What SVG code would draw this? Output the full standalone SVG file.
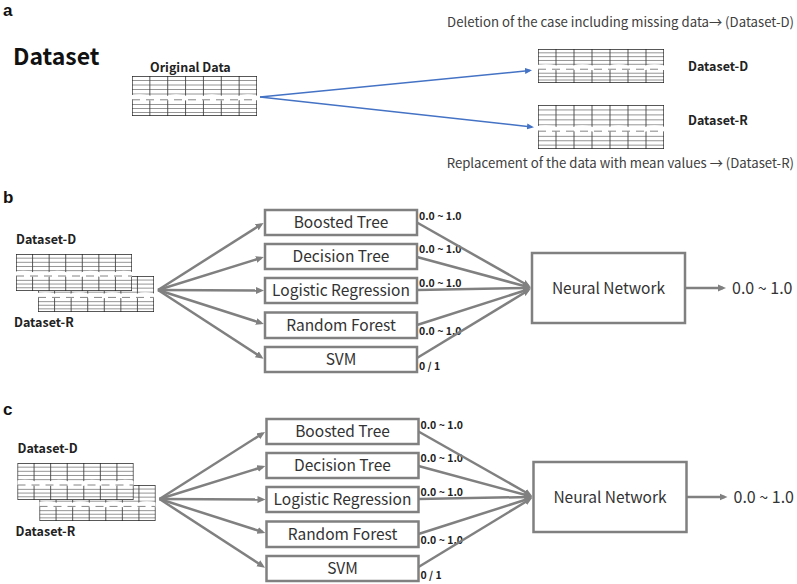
<svg xmlns="http://www.w3.org/2000/svg" xmlns:xlink="http://www.w3.org/1999/xlink" width="797" height="584" viewBox="0 0 797 584">
<style>
  text { font-family: "Noto Sans CJK JP", "Noto Sans", sans-serif; }
  .panel { font-family: "Liberation Sans", Arial, sans-serif; font-size: 17px; font-weight: bold; fill: #111; }
  .title { font-size: 23px; font-weight: bold; fill: #111; }
  .dlab { font-size: 12.5px; font-weight: bold; fill: #222; }
  .note { font-size: 13.2px; fill: #404040; text-anchor: end; }
  .box { fill: #fff; stroke: #808080; stroke-width: 2.5; }
  .blab { font-size: 15.5px; fill: #333; text-anchor: middle; }
  .val { font-size: 10.5px; font-weight: bold; fill: #222; }
  .out { font-size: 16px; fill: #333; }
  .gl { stroke: #808080; stroke-width: 2.5; fill: none; marker-end: url(#ag); }
  .bl { stroke: #4472C4; stroke-width: 1.5; fill: none; marker-end: url(#ab); }
</style>
<defs>
  <marker id="ag" markerUnits="userSpaceOnUse" markerWidth="10" markerHeight="9" refX="5" refY="4" orient="auto">
    <path d="M0,0.5 L8,4 L0,7.5 z" fill="#808080"/>
  </marker>
  <marker id="ab" markerUnits="userSpaceOnUse" markerWidth="9" markerHeight="8" refX="5" refY="3.5" orient="auto">
    <path d="M0,0.5 L7,3.5 L0,6.5 z" fill="#4472C4"/>
  </marker>
  <symbol id="tbl" viewBox="0 0 126 40" preserveAspectRatio="none">
    <rect x="0" y="0" width="126" height="40" fill="#fff"/>
    <g stroke="#7a7a7a" stroke-width="0.8">
      <line x1="0" y1="4.5" x2="126" y2="4.5" vector-effect="non-scaling-stroke"/>
      <line x1="0" y1="9" x2="126" y2="9" vector-effect="non-scaling-stroke"/>
      <line x1="0" y1="13.5" x2="126" y2="13.5" vector-effect="non-scaling-stroke"/>
      <line x1="0" y1="18" x2="126" y2="18" vector-effect="non-scaling-stroke"/>
      <line x1="0" y1="28.5" x2="126" y2="28.5" vector-effect="non-scaling-stroke"/>
      <line x1="0" y1="32.5" x2="126" y2="32.5" vector-effect="non-scaling-stroke"/>
      <line x1="0" y1="36.5" x2="126" y2="36.5" vector-effect="non-scaling-stroke"/>
    </g>
    <g stroke="#444" stroke-width="0.9">
      <line x1="18" y1="0" x2="18" y2="40" vector-effect="non-scaling-stroke"/>
      <line x1="36" y1="0" x2="36" y2="40" vector-effect="non-scaling-stroke"/>
      <line x1="54" y1="0" x2="54" y2="40" vector-effect="non-scaling-stroke"/>
      <line x1="72" y1="0" x2="72" y2="40" vector-effect="non-scaling-stroke"/>
      <line x1="90" y1="0" x2="90" y2="40" vector-effect="non-scaling-stroke"/>
      <line x1="108" y1="0" x2="108" y2="40" vector-effect="non-scaling-stroke"/>
    </g>
    <rect x="0" y="0" width="126" height="40" fill="none" stroke="#222" stroke-width="1.3" vector-effect="non-scaling-stroke"/>
    <path d="M-3,22 Q8,19 18,22 T36,22 T54,22 T72,22 T90,22 T108,22 T126,22 T144,22" fill="none" stroke="#fff" stroke-width="4.5" vector-effect="non-scaling-stroke"/>
    <path d="M0,23.8 L126,23.8" fill="none" stroke="#777" stroke-width="0.9" stroke-dasharray="8 6" vector-effect="non-scaling-stroke"/>
  </symbol>
</defs>

<!-- Panel a -->
<text class="panel" x="3" y="16">a</text>
<text class="title" x="13" y="65">Dataset</text>

<g id="original-data">
  <text class="dlab" x="150" y="72">Original Data</text>
  <use xlink:href="#tbl" x="132" y="76" width="125" height="40"/>
</g>
<g id="dataset-d-a">
  <text class="note" x="794" y="27">Deletion of the case including missing data→ (Dataset-D)</text>
  <use xlink:href="#tbl" x="538" y="49" width="126" height="34"/>
  <text class="dlab" x="688" y="71">Dataset-D</text>
</g>
<g id="dataset-r-a">
  <use xlink:href="#tbl" x="538" y="105" width="126" height="44"/>
  <text class="dlab" x="688" y="125">Dataset-R</text>
  <text class="note" x="794" y="168">Replacement of the data with mean values → (Dataset-R)</text>
</g>
<g id="connectors-a">
  <line class="bl" x1="260" y1="97" x2="530" y2="70.5"/>
  <line class="bl" x1="260" y1="97" x2="532" y2="127"/>
</g>

<!-- Panel b -->
<text class="panel" x="3" y="203">b</text>
<g id="panel-b">
  <g id="b-datasets">
    <text class="dlab" x="16" y="244">Dataset-D</text>
    <use xlink:href="#tbl" x="38" y="276" width="116" height="36"/>
    <use xlink:href="#tbl" x="16" y="254" width="116" height="37"/>
    <text class="dlab" x="14" y="327">Dataset-R</text>
  </g>
  <g id="b-boosted"><rect class="box" x="265" y="210" width="152" height="25"/><text class="blab" x="341" y="227.5">Boosted Tree</text><text class="val" x="419" y="220">0.0 ~ 1.0</text></g>
  <g id="b-decision"><rect class="box" x="265" y="244" width="152" height="25"/><text class="blab" x="341" y="261.5">Decision Tree</text><text class="val" x="419" y="253">0.0 ~ 1.0</text></g>
  <g id="b-logistic"><rect class="box" x="265" y="278" width="152" height="25"/><text class="blab" x="341" y="295.5">Logistic Regression</text><text class="val" x="419" y="287">0.0 ~ 1.0</text></g>
  <g id="b-rf"><rect class="box" x="265" y="312.5" width="152" height="25.5"/><text class="blab" x="341" y="330.5">Random Forest</text><text class="val" x="419" y="335">0.0 ~ 1.0</text></g>
  <g id="b-svm"><rect class="box" x="265" y="347" width="152" height="25"/><text class="blab" x="341" y="364.5">SVM</text><text class="val" x="419" y="370">0 / 1</text></g>
  <g id="b-nn"><rect class="box" x="532" y="253" width="153" height="70"/><text class="blab" x="608.5" y="293.5">Neural Network</text></g>
  <g id="b-output"><text class="out" x="732" y="294">0.0 ~ 1.0</text></g>
  <g id="b-connectors">
    <line class="gl" x1="158" y1="290" x2="261" y2="224.5"/>
    <line class="gl" x1="158" y1="290" x2="261" y2="258"/>
    <line class="gl" x1="158" y1="290" x2="261" y2="290.5"/>
    <line class="gl" x1="158" y1="290" x2="261" y2="323"/>
    <line class="gl" x1="158" y1="290" x2="261" y2="357"/>
    <line class="gl" x1="417" y1="222.5" x2="528" y2="285.5"/>
    <line class="gl" x1="417" y1="257" x2="528" y2="287"/>
    <line class="gl" x1="417" y1="290" x2="528" y2="288"/>
    <line class="gl" x1="417" y1="325" x2="528" y2="289.5"/>
    <line class="gl" x1="417" y1="358" x2="528" y2="290.5"/>
    <line class="gl" x1="685" y1="288" x2="723" y2="288"/>
  </g>
</g>

<!-- Panel c -->
<text class="panel" x="3" y="415">c</text>
<g id="panel-c" transform="translate(1.5,209)">
  <g id="c-datasets">
    <text class="dlab" x="16" y="244">Dataset-D</text>
    <use xlink:href="#tbl" x="38" y="276" width="116" height="36"/>
    <use xlink:href="#tbl" x="16" y="254" width="116" height="37"/>
    <text class="dlab" x="14" y="327">Dataset-R</text>
  </g>
  <g id="c-boosted"><rect class="box" x="265" y="210" width="152" height="25"/><text class="blab" x="341" y="227.5">Boosted Tree</text><text class="val" x="419" y="220">0.0 ~ 1.0</text></g>
  <g id="c-decision"><rect class="box" x="265" y="244" width="152" height="25"/><text class="blab" x="341" y="261.5">Decision Tree</text><text class="val" x="419" y="253">0.0 ~ 1.0</text></g>
  <g id="c-logistic"><rect class="box" x="265" y="278" width="152" height="25"/><text class="blab" x="341" y="295.5">Logistic Regression</text><text class="val" x="419" y="287">0.0 ~ 1.0</text></g>
  <g id="c-rf"><rect class="box" x="265" y="312.5" width="152" height="25.5"/><text class="blab" x="341" y="330.5">Random Forest</text><text class="val" x="419" y="335">0.0 ~ 1.0</text></g>
  <g id="c-svm"><rect class="box" x="265" y="347" width="152" height="25"/><text class="blab" x="341" y="364.5">SVM</text><text class="val" x="419" y="370">0 / 1</text></g>
  <g id="c-nn"><rect class="box" x="532" y="253" width="153" height="70"/><text class="blab" x="608.5" y="293.5">Neural Network</text></g>
  <g id="c-output"><text class="out" x="732" y="294">0.0 ~ 1.0</text></g>
  <g id="c-connectors">
    <line class="gl" x1="158" y1="290" x2="261" y2="224.5"/>
    <line class="gl" x1="158" y1="290" x2="261" y2="258"/>
    <line class="gl" x1="158" y1="290" x2="261" y2="290.5"/>
    <line class="gl" x1="158" y1="290" x2="261" y2="323"/>
    <line class="gl" x1="158" y1="290" x2="261" y2="357"/>
    <line class="gl" x1="417" y1="222.5" x2="528" y2="285.5"/>
    <line class="gl" x1="417" y1="257" x2="528" y2="287"/>
    <line class="gl" x1="417" y1="290" x2="528" y2="288"/>
    <line class="gl" x1="417" y1="325" x2="528" y2="289.5"/>
    <line class="gl" x1="417" y1="358" x2="528" y2="290.5"/>
    <line class="gl" x1="685" y1="288" x2="723" y2="288"/>
  </g>
</g>
</svg>
